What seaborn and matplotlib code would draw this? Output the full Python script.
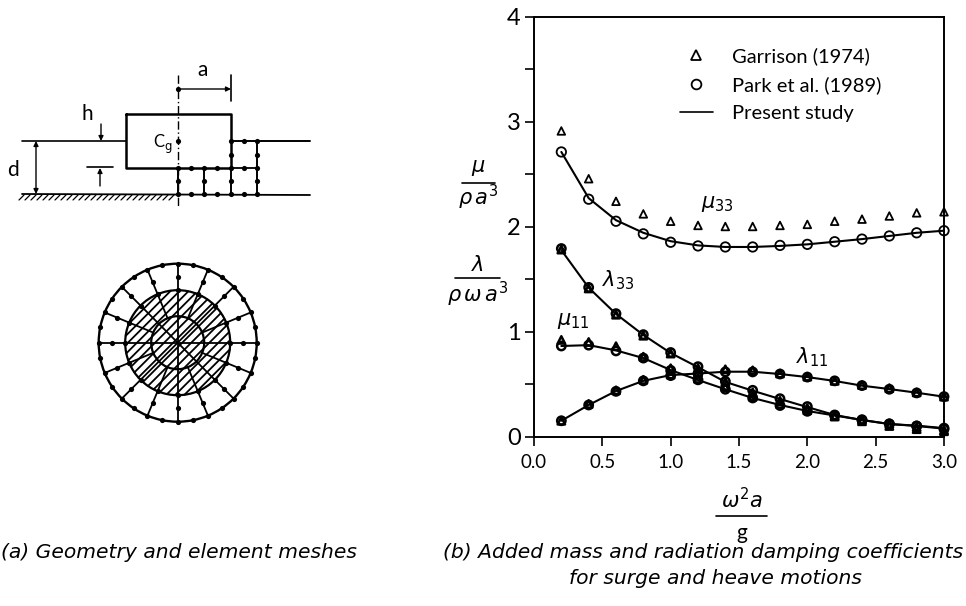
import numpy as np
import pandas as pd
import matplotlib
matplotlib.use('Agg')
import matplotlib.pyplot as plt
from matplotlib.lines import Line2D
from matplotlib.patches import Circle
import seaborn as sns

sns.set_style('ticks')
plt.rcParams['font.family'] = ['Lato', 'DejaVu Sans']
plt.rcParams['mathtext.fontset'] = 'dejavusans'
plt.rcParams['text.color'] = 'black'
plt.rcParams['xtick.labelcolor'] = 'black'
plt.rcParams['ytick.labelcolor'] = 'black'

omega = [0.2, 0.4, 0.6, 0.8, 1.0, 1.2, 1.4, 1.6, 1.8, 2.0, 2.2, 2.4, 2.6, 2.8, 3.0]

# present study, the curves
line_mu33 = [2.71, 2.27, 2.06, 1.94, 1.86, 1.82, 1.805, 1.805, 1.815, 1.83, 1.855, 1.88, 1.91, 1.94, 1.96]
line_lam33 = [1.775, 1.417, 1.167, 0.967, 0.795, 0.66, 0.52, 0.436, 0.357, 0.28, 0.205, 0.157, 0.119, 0.103, 0.08]
line_mu11 = [0.862, 0.87, 0.82, 0.747, 0.633, 0.538, 0.45, 0.367, 0.30, 0.243, 0.20, 0.157, 0.119, 0.10, 0.075]
line_lam11 = [0.15, 0.30, 0.433, 0.53, 0.585, 0.60, 0.617, 0.617, 0.595, 0.566, 0.529, 0.484, 0.452, 0.417, 0.379]

# park et al. (1989)
park_mu33 = [2.71, 2.26, 2.05, 1.93, 1.85, 1.815, 1.805, 1.805, 1.82, 1.83, 1.855, 1.88, 1.91, 1.94, 1.96]
park_lam33 = [1.79, 1.42, 1.17, 0.97, 0.80, 0.665, 0.525, 0.44, 0.36, 0.285, 0.205, 0.16, 0.12, 0.10, 0.08]
park_mu11 = [0.862, 0.87, 0.815, 0.747, 0.63, 0.54, 0.45, 0.367, 0.295, 0.24, 0.20, 0.155, 0.12, 0.10, 0.07]
park_lam11 = [0.15, 0.30, 0.43, 0.53, 0.58, 0.60, 0.615, 0.615, 0.595, 0.566, 0.53, 0.485, 0.45, 0.415, 0.38]

# garrison (1974)
gar_mu33 = [2.91, 2.455, 2.24, 2.12, 2.05, 2.01, 2.0, 2.0, 2.01, 2.02, 2.05, 2.07, 2.10, 2.13, 2.14]
gar_lam33 = [1.78, 1.41, 1.16, 0.96, 0.79, 0.65, 0.52, 0.42, 0.34, 0.27, 0.19, 0.145, 0.10, 0.07, 0.05]
gar_mu11 = [0.92, 0.90, 0.86, 0.76, 0.65, 0.55, 0.47, 0.38, 0.31, 0.25, 0.20, 0.16, 0.12, 0.09, 0.06]
gar_lam11 = [0.15, 0.31, 0.44, 0.54, 0.59, 0.61, 0.64, 0.63, 0.60, 0.57, 0.53, 0.49, 0.46, 0.42, 0.38]

curve_names = ['mu33', 'lam33', 'mu11', 'lam11']
x_ticks = [0.0, 0.5, 1.0, 1.5, 2.0, 2.5, 3.0]
x_labels = ['0.0', '0.5', '1.0', '1.5', '2.0', '2.5', '3.0']
y_ticks = [0, 0.5, 1, 1.5, 2, 2.5, 3, 3.5, 4]
y_labels = ['0', '', '1', '', '2', '', '3', '', '4']


def to_long(curves):
    frames = []
    for name, vals in zip(curve_names, curves):
        frames.append(pd.DataFrame({'omega': omega, 'coef': vals, 'curve': name}))
    return pd.concat(frames, ignore_index=True)


W, H = 966, 606
fig = plt.figure(figsize=(W / 100, H / 100), dpi=100)

# overlay in pixels for the sketch and the fraction labels
sk = fig.add_axes([0, 0, 1, 1])
sk.set_xlim(0, W)
sk.set_ylim(H, 0)
sk.axis('off')

ax = fig.add_axes([534 / W, 1 - 436.5 / H, 410 / W, 420 / H])
ax.patch.set_alpha(0)

sns.lineplot(data=to_long([line_mu33, line_lam33, line_mu11, line_lam11]), x='omega', y='coef',
             units='curve', estimator=None, color='k', linewidth=1.5, ax=ax, clip_on=False)

# the upper curve stays open, the three lower ones print as heavy blobs in the scan
park = to_long([park_mu33, park_lam33, park_mu11, park_lam11])
gar = to_long([gar_mu33, gar_lam33, gar_mu11, gar_lam11])
sns.scatterplot(data=park[park['curve'] == 'mu33'], x='omega', y='coef', marker='o', s=46,
                facecolor='none', edgecolor='k', linewidth=1.3, ax=ax, clip_on=False, zorder=3)
sns.scatterplot(data=gar[gar['curve'] == 'mu33'], x='omega', y='coef', marker='^', s=30,
                facecolor='none', edgecolor='k', linewidth=1.3, ax=ax, clip_on=False, zorder=3)
sns.scatterplot(data=park[park['curve'] != 'mu33'], x='omega', y='coef', marker='o', s=36,
                facecolor='none', edgecolor='k', linewidth=1.8, ax=ax, clip_on=False, zorder=3)
sns.scatterplot(data=gar[gar['curve'] != 'mu33'], x='omega', y='coef', marker='^', s=28,
                facecolor='none', edgecolor='k', linewidth=1.8, ax=ax, clip_on=False, zorder=3)

ax.set_xlim(0, 3)
ax.set_ylim(0, 4)
ax.set_xticks(x_ticks, x_labels)
ax.set_yticks(y_ticks, y_labels)
ax.set_xlabel('')
ax.set_ylabel('')
ax.tick_params(axis='both', direction='out', length=6.5, width=1.2, color='k')
ax.tick_params(axis='x', labelsize=13.5, pad=6)
ax.tick_params(axis='y', labelsize=17, pad=3)
for s in ax.spines.values():
    s.set_visible(True)
    s.set_linewidth(1.4)
    s.set_color('k')

handles = [
    Line2D([], [], ls='', marker='^', ms=6.5, mfc='none', mec='k', mew=1.3),
    Line2D([], [], ls='', marker='o', ms=7, mfc='none', mec='k', mew=1.3),
    Line2D([], [], color='k', lw=1.2),
]
ax.legend(handles, ['Garrison (1974)', 'Park et al. (1989)', 'Present study'], frameon=False,
          fontsize=14.5, handlelength=1.65, handletextpad=0.95, labelspacing=0.55,
          loc='upper left', bbox_to_anchor=(0.355, 0.927), borderpad=0, borderaxespad=0)

ax.text(1.22, 2.18, r'$\mu_{33}$', fontsize=15)
ax.text(0.50, 1.43, r'$\lambda_{33}$', fontsize=15)
ax.text(0.17, 1.06, r'$\mu_{11}$', fontsize=15)
ax.text(1.92, 0.70, r'$\lambda_{11}$', fontsize=15)

# fractions beside and below the axes
sk.text(478, 168, r'$\mu$', fontsize=15, ha='center', va='center')
sk.plot([462, 495], [183, 183], color='k', lw=1.2)
sk.text(478, 197, r'$\rho\,a^3$', fontsize=15, ha='center', va='center')
sk.text(478, 265, r'$\lambda$', fontsize=15, ha='center', va='center')
sk.plot([455, 500], [278, 278], color='k', lw=1.2)
sk.text(478, 294, r'$\rho\,\omega\,a^3$', fontsize=15, ha='center', va='center')
sk.text(742, 500, r'$\omega^2 a$', fontsize=15, ha='center', va='center')
sk.plot([716, 767], [516, 516], color='k', lw=1.2)
sk.text(742, 533, 'g', fontsize=15, ha='center', va='center')

cap_font = ['DejaVu Sans']
sk.text(1, 552, '(a) Geometry and element meshes', fontsize=14.6, style='italic', va='center', family=cap_font)
sk.text(443, 552, '(b) Added mass and radiation damping coefficients', fontsize=14.6, style='italic', va='center', family=cap_font)
sk.text(715, 579, 'for surge and heave motions', fontsize=14.6, style='italic', ha='center', va='center', family=cap_font)

# geometry sketch, pixel positions
box_x = [126, 231, 231, 126, 126]
box_y = [114, 114, 168, 168, 114]
sk.plot(box_x, box_y, color='k', lw=1.8)
sk.plot([22, 126], [141, 141], color='k', lw=1.2)
sk.plot([231, 310], [141, 141], color='k', lw=1.4)
sk.plot([22, 310], [194, 195], color='k', lw=1.3)
sk.plot([231, 257], [168, 168], color='k', lw=1.3)
for hx in np.arange(24, 178, 6):
    sk.plot([hx - 5, hx], [200, 195], color='k', lw=0.9)
sk.plot([178, 178], [75, 207], color='k', lw=1.0, ls=(0, (6, 2, 1, 2)))
for mx, y0 in zip([178, 204, 231, 257], [168, 168, 168, 141]):
    sk.plot([mx, mx], [y0, 194], color='k', lw=1.4)

node_x = [178, 191, 204, 217, 231, 244, 257] * 2 + [231, 244, 257, 178, 204, 231, 257, 231, 257, 178, 178]
node_y = [194] * 7 + [168] * 7 + [141] * 3 + [181] * 4 + [155, 155, 141, 89]
sk.scatter(node_x, node_y, s=14, color='k', zorder=3, linewidths=0)

arrow = dict(lw=1, color='k', shrinkA=0, shrinkB=0, mutation_scale=7)
sk.annotate('', xy=(231, 89), xytext=(178, 89), arrowprops=dict(arrowstyle='-|>', **arrow))
sk.plot([231, 231], [75, 101], color='k', lw=1.2)
sk.annotate('', xy=(36, 141), xytext=(36, 194), arrowprops=dict(arrowstyle='<|-|>', **arrow))
sk.annotate('', xy=(101, 141), xytext=(101, 124), arrowprops=dict(arrowstyle='-|>', **arrow))
sk.annotate('', xy=(100, 168), xytext=(100, 186), arrowprops=dict(arrowstyle='-|>', **arrow))
sk.plot([87, 113], [167, 167], color='k', lw=1.2)
sk.text(203, 70, 'a', fontsize=15, ha='center', va='center')
sk.text(87, 114, 'h', fontsize=15, ha='center', va='center')
sk.text(13, 170, 'd', fontsize=15, ha='center', va='center')
sk.text(163, 144, r'C$_{\mathrm{g}}$', fontsize=12, ha='center', va='center')

# element mesh
cx, cy = 177.7, 342.7
r_out, r_mid, r_in = 79, 52.5, 26.5

# hatch chords across the inner disc, running lower left to upper right
u = np.sqrt(0.5)
for p in np.arange(-48, 49, 6.4):
    half = np.sqrt(r_mid ** 2 - p ** 2)
    mx, my = cx + p * u, cy + p * u
    sk.plot([mx - half * u, mx + half * u], [my + half * u, my - half * u], color='k', lw=1.3)

for rad, lw in zip([r_out, r_mid, r_in], [1.7, 1.6, 1.6]):
    sk.add_patch(Circle((cx, cy), rad, fc='none', ec='k', lw=lw))

angles = np.deg2rad(np.arange(0, 360, 22.5))
for i, ang in enumerate(angles):
    start = 0 if i % 2 == 0 else r_in
    sk.plot([cx + start * np.cos(ang), cx + r_out * np.cos(ang)],
            [cy + start * np.sin(ang), cy + r_out * np.sin(ang)], color='k', lw=1.3)

ang_fine = np.deg2rad(np.arange(0, 360, 11.25))
sk.scatter(cx + r_out * np.cos(ang_fine), cy + r_out * np.sin(ang_fine), s=14, color='k', linewidths=0, zorder=3)
sk.scatter(cx + r_mid * np.cos(angles), cy + r_mid * np.sin(angles), s=14, color='k', linewidths=0, zorder=3)
r_spoke = (r_out + r_mid) / 2
sk.scatter(cx + r_spoke * np.cos(angles), cy + r_spoke * np.sin(angles), s=14, color='k', linewidths=0, zorder=3)

fig.savefig('out.png', dpi=100)
